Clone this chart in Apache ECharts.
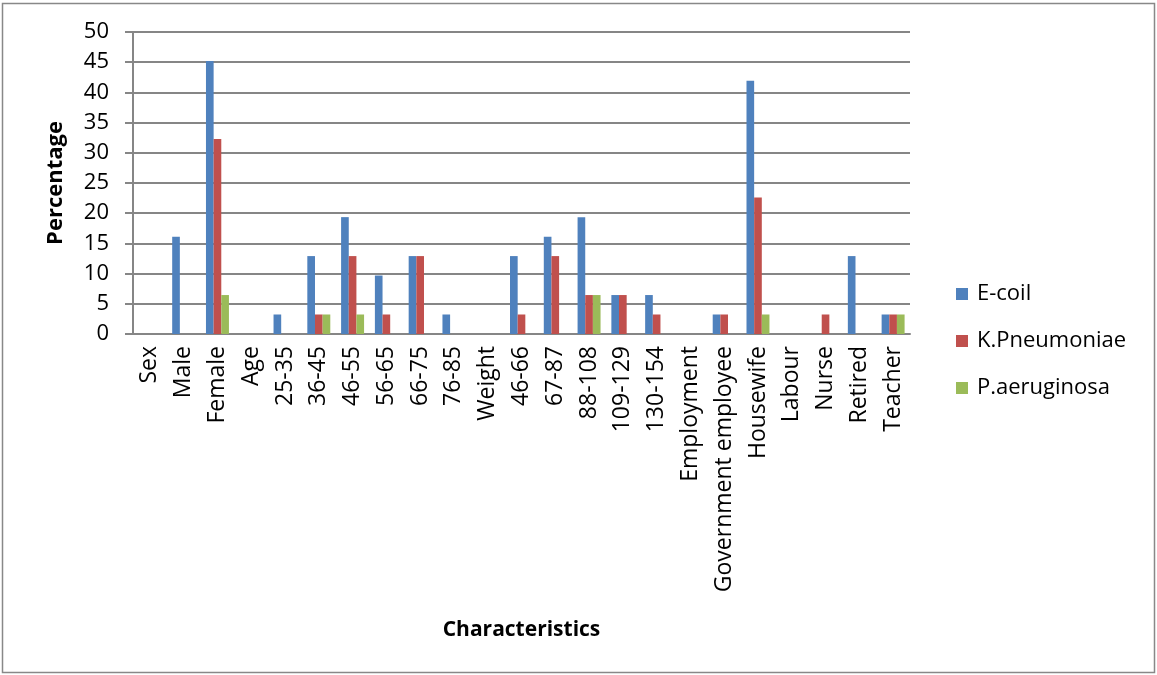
<!DOCTYPE html>
<html>
<head>
<meta charset="utf-8">
<script src="https://cdn.jsdelivr.net/npm/echarts@6/dist/echarts.min.js"></script>
<style>
html,body{margin:0;padding:0;background:#fff;}
#chart{width:1157px;height:675px;}
</style>
</head>
<body>
<div id="chart"></div>
<script>
const categories = ["Sex","Male","Female","Age","25-35","36-45","46-55","56-65","66-75","76-85","Weight","46-66","67-87","88-108","109-129","130-154","Employment","Government employee","Housewife","Labour","Nurse","Retired","Teacher"];
const ecoli =        [0, 16.1, 45.2, 0, 3.23, 12.9, 19.35, 9.68, 12.9, 3.23, 0, 12.9, 16.1, 19.35, 6.45, 6.45, 0, 3.23, 41.94, 0, 0, 12.9, 3.23];
const kpneumoniae =  [0, 0, 32.3, 0, 0, 3.23, 12.9, 3.23, 12.9, 0, 0, 3.23, 12.9, 6.45, 6.45, 3.23, 0, 3.23, 22.58, 0, 3.23, 0, 3.23];
const paeruginosa =  [0, 0, 6.45, 0, 0, 3.23, 3.23, 0, 0, 0, 0, 0, 0, 6.45, 0, 0, 0, 0, 3.23, 0, 0, 0, 3.23];
const seriesNames = ["E-coil","K.Pneumoniae","P.aeruginosa"];
const yTicks = [0,5,10,15,20,25,30,35,40,45,50];

const font = "'Open Sans', 'Noto Sans', sans-serif";
const colors = ['#4F81BD','#C0504D','#9BBB59'];
const chart = echarts.init(document.getElementById('chart'));
const mk = (name, data, i) => ({
  name, type: 'bar', data,
  itemStyle: {color: colors[i]},
  barGap: '0%', barCategoryGap: '32%',
  animation: false
});
chart.setOption({
  animation: false,
  color: colors,
  graphic: [{
    type: 'rect', shape: {x: 2.5, y: 3.5, width: 1152, height: 669},
    style: {fill: 'none', stroke: '#888', lineWidth: 1.5}, silent: true
  }],
  grid: {left: 133, right: 247, top: 32, bottom: 341, containLabel: false},
  legend: {
    orient: 'vertical', left: 951, top: 278, itemGap: 25,
    icon: 'rect', itemWidth: 12, itemHeight: 12,
    textStyle: {fontFamily: font, fontSize: 22, color: '#000', padding: [0, 0, 0, 4]},
    data: seriesNames
  },
  xAxis: {
    type: 'category', data: categories,
    name: 'Characteristics', nameLocation: 'middle', nameGap: 286,
    nameTextStyle: {fontFamily: font, fontSize: 21, fontWeight: 'bold', color: '#000'},
    axisLine: {lineStyle: {color: '#868686', width: 2}},
    axisTick: {show: false},
    axisLabel: {rotate: 90, interval: 0, fontFamily: font, fontSize: 23, color: '#000', margin: 12}
  },
  yAxis: {
    type: 'value', min: 0, max: 50, interval: 5,
    name: 'Percentage', nameLocation: 'middle', nameGap: 66,
    nameTextStyle: {fontFamily: font, fontSize: 22, fontWeight: 'bold', color: '#000'},
    axisLine: {show: true, lineStyle: {color: '#868686', width: 2}},
    axisTick: {show: true, inside: false, length: 8, lineStyle: {color: '#868686', width: 2}},
    splitLine: {lineStyle: {color: '#868686', width: 2}},
    axisLabel: {fontFamily: font, fontSize: 22, color: '#000', margin: 24,
      formatter: v => yTicks.includes(v) ? String(v) : ''}
  },
  series: [mk(seriesNames[0], ecoli, 0), mk(seriesNames[1], kpneumoniae, 1), mk(seriesNames[2], paeruginosa, 2)]
});
</script>
</body>
</html>
